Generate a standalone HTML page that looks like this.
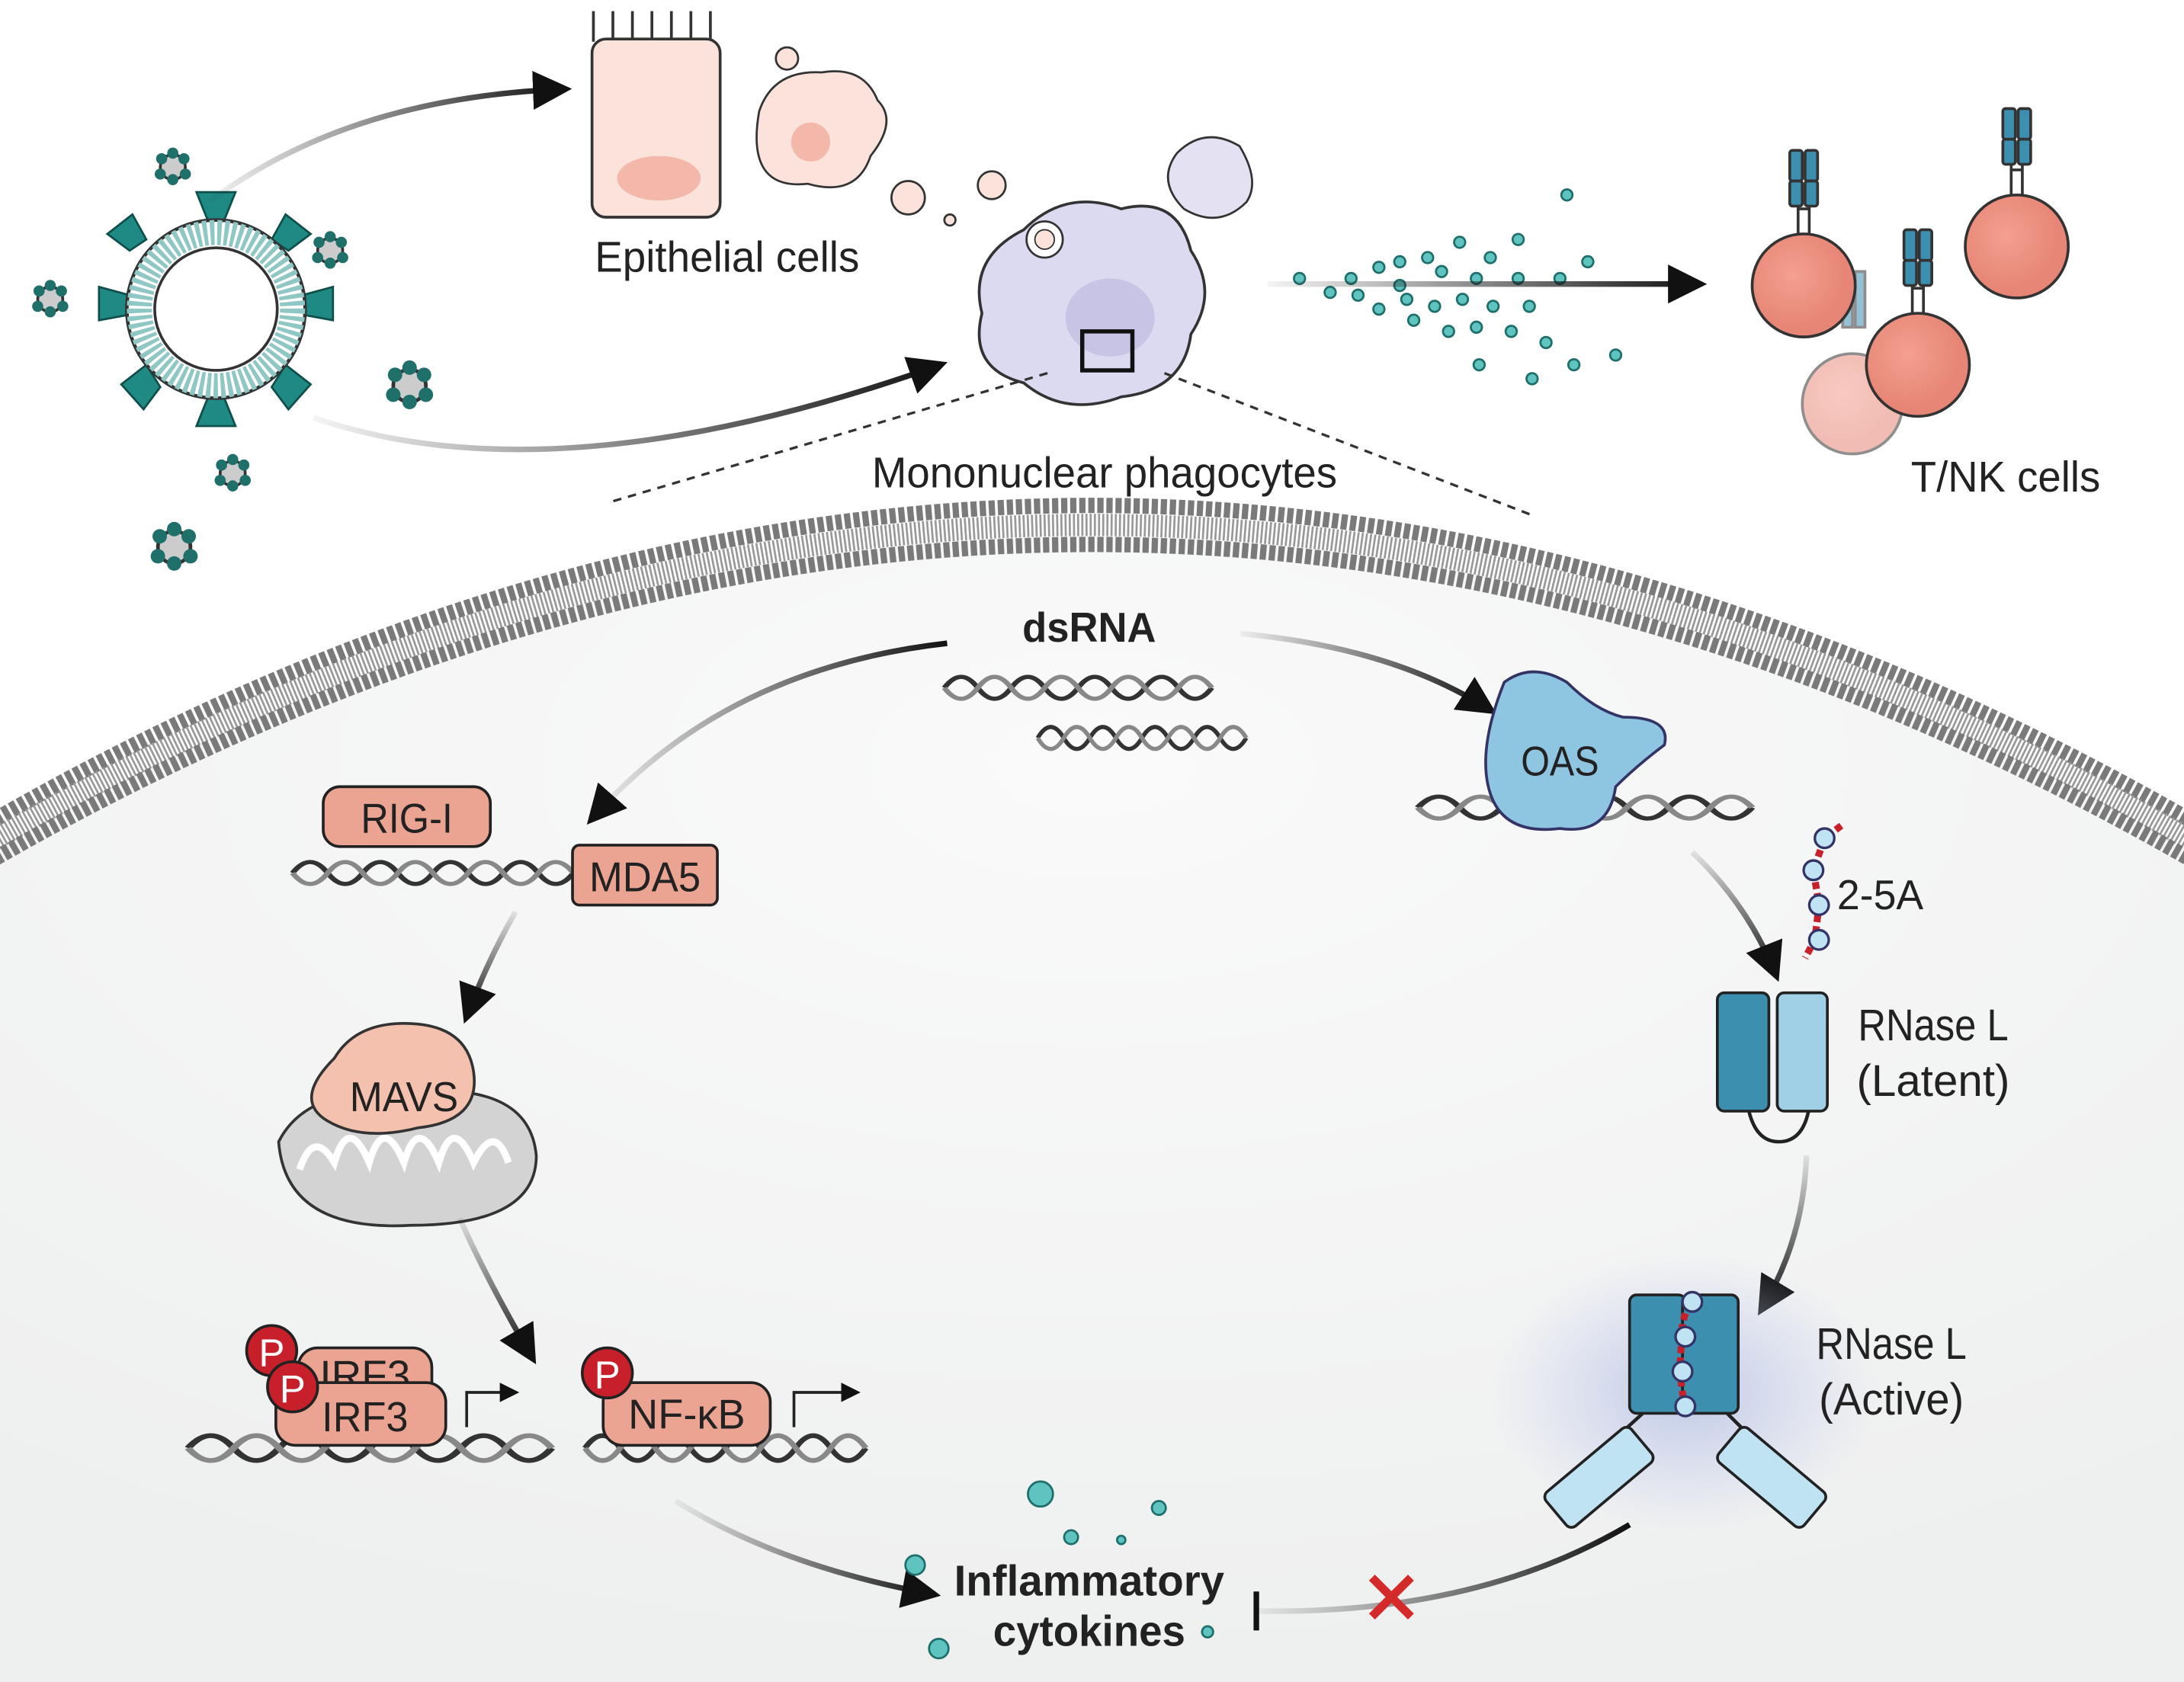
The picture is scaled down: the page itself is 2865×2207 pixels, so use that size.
<!DOCTYPE html>
<html><head><meta charset="utf-8"><style>
html,body{margin:0;padding:0;background:#fff}
svg{display:block}
text{font-family:"Liberation Sans Narrow","Liberation Sans",sans-serif;fill:#222}
</style></head><body>
<svg width="2865" height="2207" viewBox="0 0 1568 1208" xmlns="http://www.w3.org/2000/svg">
<defs>
<radialGradient id="cellg" cx="0.5" cy="0.2" r="0.8">
<stop offset="0" stop-color="#fafafa"/><stop offset="1" stop-color="#eeefef"/></radialGradient>
<linearGradient id="fadeL" x1="0" x2="1"><stop offset="0" stop-color="#222" stop-opacity="0.05"/><stop offset="1" stop-color="#111"/></linearGradient>
<linearGradient id="fadeR" x1="1" x2="0"><stop offset="0" stop-color="#111"/><stop offset="1" stop-color="#222" stop-opacity="0.05"/></linearGradient>
<linearGradient id="fadeD" x1="0" y1="0" x2="0" y2="1"><stop offset="0" stop-color="#222" stop-opacity="0.1"/><stop offset="1" stop-color="#111"/></linearGradient>
<linearGradient id="fadeH" gradientUnits="userSpaceOnUse" x1="910" y1="0" x2="1220" y2="0"><stop offset="0" stop-color="#222" stop-opacity="0.05"/><stop offset="1" stop-color="#111"/></linearGradient>
<radialGradient id="glow"><stop offset="0" stop-color="#b9c4e6" stop-opacity="0.9"/><stop offset="1" stop-color="#c8d0ee" stop-opacity="0"/></radialGradient>
<radialGradient id="tc" cx="0.4" cy="0.4"><stop offset="0" stop-color="#f4a090"/><stop offset="1" stop-color="#e78676"/></radialGradient>
<marker id="ah" viewBox="0 0 10 10" refX="8" refY="5" markerWidth="7" markerHeight="7" orient="auto"><path d="M0,0 L10,5 L0,10 z" fill="#111"/></marker>
<g id="dna"><path d="M0,0 c8,-14 16,-14 24,0 s16,14 24,0 s16,-14 24,0 s16,14 24,0 s16,-14 24,0 s16,14 24,0 s16,-14 24,0 s16,14 24,0" fill="none" stroke="#333" stroke-width="4"/><path d="M0,0 c8,14 16,14 24,0 s16,-14 24,0 s16,14 24,0 s16,-14 24,0 s16,14 24,0 s16,-14 24,0 s16,14 24,0 s16,-14 24,0" fill="none" stroke="#888" stroke-width="4"/></g>
<g id="vir"><circle r="9" fill="#ccc" stroke="#333" stroke-width="2"/><circle cx="-8" cy="-6" r="4" fill="#1f6f6a"/><circle cx="8" cy="-6" r="4" fill="#1f6f6a"/><circle cx="0" cy="9" r="4" fill="#1f6f6a"/><circle cx="-9" cy="5" r="4" fill="#1f6f6a"/><circle cx="9" cy="5" r="4" fill="#1f6f6a"/><circle cx="0" cy="-10" r="4" fill="#1f6f6a"/></g>
</defs>
<rect width="1568" height="1208" fill="#fff"/>
<path d="M-20 620 Q784 150 1588 620 L1588 1208 L-20 1208 Z" fill="url(#cellg)"/>
<!-- membrane -->
<path d="M-20 598 Q784 128 1588 598" fill="none" stroke="#7a7a7a" stroke-width="11" stroke-dasharray="4.5 2"/>
<path d="M-20 612 Q784 142 1588 612" fill="none" stroke="#999" stroke-width="16" stroke-dasharray="1.5 1.5"/>
<path d="M-20 626 Q784 156 1588 626" fill="none" stroke="#7a7a7a" stroke-width="11" stroke-dasharray="4.5 2"/>

<g transform="translate(155,222)">
<g fill="#1f8a84" stroke="#0f4f4b" stroke-width="1.5">
<path d="M-6,-64 l-8,-20 h28 l-8,20z"/><path d="M40,-50 l10,-18 l18,14 l-16,12z"/><path d="M62,-10 l22,-6 v24 l-22,-4z"/><path d="M50,40 l18,14 l-16,18 l-12,-16z"/><path d="M-6,64 l-8,20 h28 l-8,-20z"/><path d="M-50,40 l-18,14 l16,18 l12,-16z"/><path d="M-62,-10 l-22,-6 v24 l22,-4z"/><path d="M-50,-50 l-10,-18 l-18,14 l16,12z"/></g>
<circle r="64" fill="#fff" stroke="#333" stroke-width="2.5"/>
<circle r="55" fill="none" stroke="#8fc7c4" stroke-width="18" stroke-dasharray="3 2"/>
<circle r="44" fill="#fff" stroke="#333" stroke-width="2"/>
</g>
<use href="#vir" x="124" y="120"/><use href="#vir" x="237" y="180"/><use href="#vir" x="36" y="215"/>
<use href="#vir" x="294" y="277" transform="translate(294,277) scale(1.3) translate(-294,-277)"/><use href="#vir" x="167" y="340"/><use href="#vir" x="125" y="393" transform="translate(125,393) scale(1.3) translate(-125,-393)"/>
<use href="#vir" x="490" y="60"/><use href="#vir" x="453" y="95"/>
<path d="M150 145 Q250 70 405 64" fill="none" stroke="url(#fadeL)" stroke-width="4" marker-end="url(#ah)"/>
<path d="M225 300 Q400 360 675 262" fill="none" stroke="url(#fadeL)" stroke-width="4" marker-end="url(#ah)"/>
<g stroke="#333" stroke-width="2" fill="#fbe3dc">
<path d="M426 30 v-22 M440 30 v-22 M454 30 v-22 M468 30 v-22 M482 30 v-22 M496 30 v-22 M510 30 v-22" />
<rect x="425" y="28" width="92" height="128" rx="10"/></g>
<ellipse cx="473" cy="128" rx="30" ry="16" fill="#f4b8aa"/>
<circle cx="565" cy="42" r="8" fill="#fbe3dc" stroke="#333" stroke-width="1.5"/>
<path d="M545 80 q10 -30 45 -28 q30 -5 40 20 q15 15 -5 40 q-10 30 -45 20 q-45 5 -35 -52z" fill="#fbe3dc" stroke="#333" stroke-width="1.5"/>
<circle cx="582" cy="102" r="14" fill="#f4b8aa"/>
<circle cx="652" cy="142" r="12" fill="#fbe3dc" stroke="#333" stroke-width="1.5"/>
<circle cx="712" cy="133" r="10" fill="#fbe3dc" stroke="#333" stroke-width="1.5"/>
<circle cx="682" cy="158" r="4" fill="#fbe3dc" stroke="#333" stroke-width="1.5"/>
<text x="522" y="195" font-size="31" text-anchor="middle" textLength="190" lengthAdjust="spacingAndGlyphs">Epithelial cells</text>
<path d="M735 165 q30 -30 70 -15 q40 -10 50 30 q20 30 0 60 q-5 40 -50 45 q-40 15 -70 -10 q-40 -10 -30 -50 q-10 -40 30 -60z" fill="#dcdaf0" stroke="#333" stroke-width="2"/>
<circle cx="750" cy="172" r="13" fill="#fff" stroke="#333" stroke-width="1.5"/><circle cx="750" cy="172" r="7" fill="#fbe3dc" stroke="#333" stroke-width="1"/>
<ellipse cx="797" cy="228" rx="32" ry="28" fill="#c7c4e6"/>
<rect x="777" y="238" width="36" height="28" fill="none" stroke="#111" stroke-width="3"/>
<path d="M845 110 q20 -20 45 -5 q15 25 5 40 q-20 20 -45 5 q-20 -20 -5 -40z" fill="#e4e2f2" stroke="#333" stroke-width="1.5"/>
<path d="M752 268 L440 360 M836 268 L1100 370" stroke="#333" stroke-width="1.8" stroke-dasharray="6 5"/>
<text x="793" y="350" font-size="31" text-anchor="middle" textLength="334" lengthAdjust="spacingAndGlyphs">Mononuclear phagocytes</text>
<g fill="#5fc4c0" stroke="#1e6f6b" stroke-width="1.5">
<circle cx="933" cy="200" r="4"/><circle cx="955" cy="210" r="4"/><circle cx="970" cy="200" r="4"/><circle cx="990" cy="192" r="4"/><circle cx="1005" cy="188" r="4"/><circle cx="1025" cy="185" r="4"/><circle cx="1048" cy="174" r="4"/><circle cx="1070" cy="185" r="4"/><circle cx="1090" cy="172" r="4"/><circle cx="1125" cy="140" r="4"/><circle cx="1140" cy="188" r="4"/><circle cx="1005" cy="205" r="4"/><circle cx="1035" cy="195" r="4"/><circle cx="1060" cy="200" r="4"/><circle cx="1010" cy="215" r="4"/><circle cx="1030" cy="220" r="4"/><circle cx="1050" cy="215" r="4"/><circle cx="1072" cy="220" r="4"/><circle cx="1098" cy="220" r="4"/><circle cx="1015" cy="230" r="4"/><circle cx="1040" cy="238" r="4"/><circle cx="1060" cy="235" r="4"/><circle cx="1085" cy="238" r="4"/><circle cx="1110" cy="246" r="4"/><circle cx="1062" cy="262" r="4"/><circle cx="1100" cy="272" r="4"/><circle cx="1130" cy="262" r="4"/><circle cx="1160" cy="255" r="4"/><circle cx="990" cy="222" r="4"/><circle cx="975" cy="212" r="4"/><circle cx="1120" cy="200" r="4"/><circle cx="1090" cy="200" r="4"/>
</g>
<path d="M910 204 L1220 204" stroke="url(#fadeH)" stroke-width="4" marker-end="url(#ah)"/>
<g stroke="#333" stroke-width="2">
<g opacity="0.55"><circle cx="1330" cy="290" r="36" fill="url(#tc)"/><rect x="1323" y="195" width="7" height="40" fill="#3d8fb0"/><rect x="1332" y="195" width="7" height="40" fill="#3d8fb0"/></g>
<circle cx="1295" cy="205" r="37" fill="url(#tc)"/>
<circle cx="1448" cy="177" r="37" fill="url(#tc)"/>
<circle cx="1377" cy="262" r="37" fill="url(#tc)"/>
<path d="M1291 168 v-30 M1299 168 v-30 M1444 140 v-30 M1452 140 v-30 M1373 225 v-30 M1381 225 v-30" fill="none"/>
<path d="M1291 150 h8 M1444 122 h8 M1373 207 h8" fill="none"/>
<g fill="#3d8fb0"><rect x="1285" y="108" width="9" height="22" rx="2"/><rect x="1296" y="108" width="9" height="22" rx="2"/><rect x="1285" y="130" width="9" height="18" rx="2"/><rect x="1296" y="130" width="9" height="18" rx="2"/>
<rect x="1438" y="78" width="9" height="22" rx="2"/><rect x="1449" y="78" width="9" height="22" rx="2"/><rect x="1438" y="100" width="9" height="18" rx="2"/><rect x="1449" y="100" width="9" height="18" rx="2"/>
<rect x="1367" y="165" width="9" height="22" rx="2"/><rect x="1378" y="165" width="9" height="22" rx="2"/><rect x="1367" y="187" width="9" height="18" rx="2"/><rect x="1378" y="187" width="9" height="18" rx="2"/></g>
</g>
<text x="1440" y="353" font-size="31" text-anchor="middle" textLength="136" lengthAdjust="spacingAndGlyphs">T/NK cells</text>

<text x="782" y="461" font-size="30" font-weight="bold" text-anchor="middle" textLength="96" lengthAdjust="spacingAndGlyphs">dsRNA</text>
<use href="#dna" x="678" y="494" transform="translate(678,494) scale(1.0,0.75) translate(-678,-494)"/>
<use href="#dna" x="745" y="530" transform="translate(745,530) scale(0.78,0.75) translate(-745,-530)"/>
<path d="M680 462 Q520 480 425 588" fill="none" stroke="url(#fadeR)" stroke-width="4" marker-end="url(#ah)"/>
<path d="M890 455 Q1000 465 1070 510" fill="none" stroke="url(#fadeL)" stroke-width="4" marker-end="url(#ah)"/>

<use href="#dna" x="210" y="627" transform="translate(210,627) scale(1.05,0.75) translate(-210,-627)"/>
<rect x="232" y="565" width="120" height="43" rx="12" fill="#eba392" stroke="#222" stroke-width="2"/>
<text x="292" y="598" font-size="30" text-anchor="middle" textLength="66" lengthAdjust="spacingAndGlyphs">RIG-I</text>
<rect x="411" y="607" width="104" height="43" rx="5" fill="#eba392" stroke="#222" stroke-width="2"/>
<text x="463" y="640" font-size="30" text-anchor="middle" textLength="80" lengthAdjust="spacingAndGlyphs">MDA5</text>
<path d="M370 655 Q350 690 335 730" fill="none" stroke="url(#fadeD)" stroke-width="4" marker-end="url(#ah)"/>
<path d="M200 820 q20 -40 90 -35 q90 -10 95 45 q0 50 -90 50 q-90 5 -95 -60z" fill="#d3d3d3" stroke="#333" stroke-width="2"/>
<path d="M215 840 q10 -30 25 -5 q10 -35 25 0 q10 -35 25 0 q10 -35 25 0 q10 -35 25 0 q15 -30 25 0" fill="none" stroke="#fff" stroke-width="5"/>
<path d="M240 760 q15 -25 50 -25 q45 0 50 35 q5 35 -40 40 q-40 10 -65 -5 q-25 -15 5 -45z" fill="#f3c1ae" stroke="#333" stroke-width="2"/>
<text x="290" y="798" font-size="30" text-anchor="middle" textLength="78" lengthAdjust="spacingAndGlyphs">MAVS</text>
<path d="M330 875 Q350 920 382 975" fill="none" stroke="url(#fadeD)" stroke-width="4" marker-end="url(#ah)"/>

<use href="#dna" x="135" y="1040" transform="translate(135,1040) scale(1.36,0.85) translate(-135,-1040)"/>
<rect x="214" y="968" width="96" height="40" rx="14" fill="#eba392" stroke="#222" stroke-width="2"/>
<text x="262" y="998" font-size="30" text-anchor="middle">IRF3</text>
<rect x="198" y="993" width="122" height="45" rx="14" fill="#eba392" stroke="#222" stroke-width="2"/>
<text x="262" y="1028" font-size="30" text-anchor="middle" textLength="62" lengthAdjust="spacingAndGlyphs">IRF3</text>
<circle cx="195" cy="970" r="18" fill="#c8202a" stroke="#222" stroke-width="2"/><text x="195" y="981" font-size="28" text-anchor="middle" style="fill:#fff">P</text>
<circle cx="210" cy="996" r="18" fill="#c8202a" stroke="#222" stroke-width="2"/><text x="210" y="1007" font-size="28" text-anchor="middle" style="fill:#fff">P</text>
<path d="M335 1025 v-25 h35" fill="none" stroke="#222" stroke-width="2" marker-end="url(#ah)"/>
<use href="#dna" x="420" y="1040" transform="translate(420,1040) scale(1.05,0.85) translate(-420,-1040)"/>
<rect x="433" y="993" width="120" height="45" rx="14" fill="#eba392" stroke="#222" stroke-width="2"/>
<text x="493" y="1026" font-size="30" text-anchor="middle" textLength="84" lengthAdjust="spacingAndGlyphs">NF-κB</text>
<circle cx="436" cy="986" r="18" fill="#c8202a" stroke="#222" stroke-width="2"/><text x="436" y="997" font-size="28" text-anchor="middle" style="fill:#fff">P</text>
<path d="M570 1025 v-25 h45" fill="none" stroke="#222" stroke-width="2" marker-end="url(#ah)"/>
<path d="M485 1078 Q560 1125 670 1145" fill="none" stroke="url(#fadeL)" stroke-width="4" marker-end="url(#ah)"/>

<use href="#dna" x="1018" y="580" transform="translate(1018,580) scale(1.25,0.75) translate(-1018,-580)"/>
<path d="M1080 490 q20 -15 45 0 q20 20 40 25 q35 0 30 20 q-20 15 -35 30 q-5 35 -40 30 q-40 5 -50 -25 q-10 -30 10 -80z" fill="#8ec5e0" stroke="#336" stroke-width="2"/>
<text x="1120" y="557" font-size="30" text-anchor="middle" textLength="56" lengthAdjust="spacingAndGlyphs">OAS</text>
<path d="M1215 612 Q1255 650 1275 700" fill="none" stroke="url(#fadeD)" stroke-width="4" marker-end="url(#ah)"/>
<path d="M1322 593 L1310 602 L1302 625 L1306 650 L1303 675 L1296 688" fill="none" stroke="#c8202a" stroke-width="5" stroke-dasharray="5 3"/>
<g fill="#bfe3f2" stroke="#336" stroke-width="1.8"><circle cx="1310" cy="602" r="7"/><circle cx="1302" cy="625" r="7"/><circle cx="1306" cy="650" r="7"/><circle cx="1306" cy="675" r="7"/></g>
<text x="1350" y="653" font-size="30" text-anchor="middle" textLength="62" lengthAdjust="spacingAndGlyphs">2-5A</text>
<path d="M1255 795 q5 25 22 25 q18 0 22 -25" fill="none" stroke="#222" stroke-width="2.5"/>
<rect x="1233" y="713" width="37" height="85" rx="5" fill="#3d8fb0" stroke="#222" stroke-width="2"/>
<rect x="1276" y="713" width="36" height="85" rx="5" fill="#9fd0e6" stroke="#222" stroke-width="2"/>
<text x="1388" y="747" font-size="32" text-anchor="middle" textLength="108" lengthAdjust="spacingAndGlyphs">RNase L</text>
<text x="1388" y="787" font-size="32" text-anchor="middle" textLength="110" lengthAdjust="spacingAndGlyphs">(Latent)</text>
<path d="M1297 830 Q1295 890 1265 940" fill="none" stroke="url(#fadeD)" stroke-width="4" marker-end="url(#ah)"/>
<ellipse cx="1210" cy="1000" rx="140" ry="100" fill="url(#glow)"/>
<path d="M1185 1010 L1130 1060 M1235 1010 L1285 1060" stroke="#222" stroke-width="2.5"/>
<rect x="1170" y="930" width="40" height="85" rx="5" fill="#3d8fb0" stroke="#222" stroke-width="2"/>
<rect x="1208" y="930" width="40" height="85" rx="5" fill="#3d8fb0" stroke="#222" stroke-width="2"/>
<rect x="1108" y="1045" width="80" height="32" rx="5" fill="#bfe3f2" stroke="#222" stroke-width="2" transform="rotate(-40 1148 1061)"/>
<rect x="1232" y="1045" width="80" height="32" rx="5" fill="#bfe3f2" stroke="#222" stroke-width="2" transform="rotate(40 1272 1061)"/>
<path d="M1215 928 L1208 950 L1206 985 L1210 1015" fill="none" stroke="#c8202a" stroke-width="5" stroke-dasharray="5 3"/>
<g fill="#bfe3f2" stroke="#336" stroke-width="1.8"><circle cx="1215" cy="935" r="7"/><circle cx="1210" cy="960" r="7"/><circle cx="1208" cy="985" r="7"/><circle cx="1210" cy="1010" r="7"/></g>
<text x="1358" y="976" font-size="32" text-anchor="middle" textLength="108" lengthAdjust="spacingAndGlyphs">RNase L</text>
<text x="1358" y="1016" font-size="32" text-anchor="middle" textLength="104" lengthAdjust="spacingAndGlyphs">(Active)</text>
<path d="M1170 1095 Q1060 1160 902 1157" fill="none" stroke="url(#fadeR)" stroke-width="4"/>
<path d="M902 1143 v28" stroke="#111" stroke-width="4"/>
<path d="M985 1133 l28 28 M1013 1133 l-28 28" stroke="#d42a2a" stroke-width="6"/>
<g fill="#5fc4c0" stroke="#1e6f6b" stroke-width="1.5">
<circle cx="747" cy="1073" r="9"/><circle cx="832" cy="1083" r="5"/><circle cx="769" cy="1104" r="5"/><circle cx="805" cy="1106" r="3"/><circle cx="657" cy="1124" r="7"/><circle cx="674" cy="1184" r="7"/><circle cx="867" cy="1172" r="4"/></g>
<text x="782" y="1146" font-size="31" font-weight="bold" text-anchor="middle" textLength="194" lengthAdjust="spacingAndGlyphs">Inflammatory</text>
<text x="782" y="1182" font-size="31" font-weight="bold" text-anchor="middle" textLength="138" lengthAdjust="spacingAndGlyphs">cytokines</text>
</svg>
</body></html>
